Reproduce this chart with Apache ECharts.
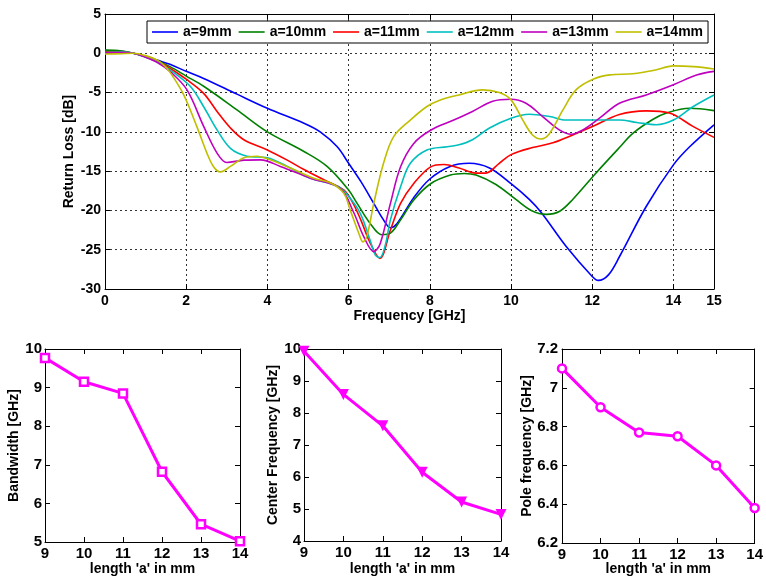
<!DOCTYPE html>
<html>
<head>
<meta charset="utf-8">
<script src="https://cdn.jsdelivr.net/npm/echarts@6/dist/echarts.min.js"></script>
<style>
  html, body { margin: 0; padding: 0; background: #fff; }
  #chart { width: 766px; height: 579px; }
</style>
</head>
<body>
<div id="chart"></div>
<script>
// Return loss curves, [frequency GHz, dB] for each slot length a
const rl_a9 = [[0,0.35],[0.4,0.25],[0.7,0],[1.0,-0.4],[1.3,-0.9],[1.6,-1.4],[2.0,-2.3],[2.43,-3.2],[3.25,-5.2],[4.0,-7.0],[4.9,-8.9],[5.3,-10.0],[5.72,-11.9],[6.0,-14.0],[6.3,-16.3],[6.62,-19.1],[6.86,-21.2],[7.03,-22.2],[7.19,-21.7],[7.6,-18.4],[8.0,-16.0],[8.5,-14.4],[8.97,-14.0],[9.47,-14.6],[10.0,-16.6],[10.45,-18.6],[10.75,-20.3],[11.36,-24.6],[12.0,-28.4],[12.15,-28.9],[12.4,-28.2],[12.68,-25.8],[13.33,-19.5],[14.0,-14.2],[14.4,-11.9],[15.0,-9.1]];
const rl_a10 = [[0,0.4],[0.4,0.3],[0.7,0],[1.0,-0.45],[1.3,-1.0],[1.6,-1.7],[2.0,-2.9],[2.43,-4.2],[3.25,-7.2],[4.0,-10.0],[4.9,-12.5],[5.47,-14.4],[6.0,-17.4],[6.21,-19.1],[6.53,-21.65],[6.82,-23.1],[7.03,-22.9],[7.28,-21.2],[7.6,-18.7],[8.02,-16.6],[8.51,-15.5],[8.85,-15.3],[9.14,-15.5],[9.63,-16.7],[10.12,-18.6],[10.5,-20.0],[10.87,-20.5],[11.2,-20.1],[11.52,-18.6],[12.1,-15.2],[12.67,-12.0],[13.0,-10.2],[13.5,-8.4],[13.83,-7.6],[14.4,-7.0],[15.0,-7.3]];
const rl_a11 = [[0,0.2],[0.4,0.2],[0.7,0],[1.0,-0.45],[1.3,-1.0],[1.6,-1.9],[2.0,-3.3],[2.43,-5.1],[2.76,-7.4],[3.09,-9.5],[3.42,-11.0],[4.0,-12.3],[4.49,-13.6],[4.9,-14.8],[5.39,-16.1],[5.88,-17.4],[6.1,-19.0],[6.3,-21.2],[6.52,-24.0],[6.77,-26.1],[7.03,-22.5],[7.28,-19.1],[7.6,-16.6],[8.02,-14.45],[8.35,-14.15],[8.72,-14.6],[9.14,-15.25],[9.38,-15.25],[9.71,-14.0],[10.0,-12.9],[10.53,-12.0],[11.03,-11.4],[11.52,-10.4],[12.02,-9.3],[12.67,-7.8],[13.33,-7.33],[13.9,-7.6],[14.48,-9.3],[15.0,-10.7]];
const rl_a12 = [[0,0.1],[0.4,0.15],[0.7,0],[1.0,-0.5],[1.3,-1.1],[1.6,-2.1],[2.1,-4.2],[2.43,-6.8],[2.76,-9.75],[3.09,-12.1],[3.5,-13.1],[4.0,-13.3],[4.49,-14.4],[5.06,-15.9],[5.72,-16.9],[6.0,-18.2],[6.29,-20.4],[6.53,-23.8],[6.66,-25.7],[6.77,-26.0],[6.9,-24.5],[7.03,-21.2],[7.28,-17.0],[7.52,-14.0],[7.93,-12.3],[8.43,-11.9],[8.72,-11.65],[9.05,-11.0],[9.47,-9.5],[10.0,-8.26],[10.45,-7.75],[10.95,-8.05],[11.36,-8.5],[11.93,-8.5],[12.67,-8.5],[13.1,-8.8],[13.58,-9.1],[14.0,-8.5],[14.48,-6.8],[15.0,-5.3]];
const rl_a13 = [[0,0.05],[0.4,0.1],[0.7,0],[1.0,-0.5],[1.3,-1.2],[1.6,-2.3],[2.02,-4.66],[2.43,-9.3],[2.76,-12.7],[3.0,-13.9],[3.42,-13.6],[3.83,-13.56],[4.32,-14.4],[5.06,-15.9],[5.79,-17.2],[6.12,-20.2],[6.37,-23.3],[6.62,-25.25],[6.78,-24.2],[7.03,-19.1],[7.28,-14.45],[7.6,-11.5],[8.02,-9.8],[8.59,-8.5],[9.05,-7.4],[9.55,-6.1],[10.0,-5.85],[10.37,-6.36],[10.78,-8.05],[11.19,-9.75],[11.48,-10.3],[11.77,-9.75],[12.18,-8.26],[12.67,-6.36],[13.33,-5.3],[14.0,-4.0],[14.57,-2.76],[15.0,-2.3]];
const rl_a14 = [[0,-0.1],[0.4,-0.05],[0.7,0],[1.0,-0.3],[1.3,-0.9],[1.45,-1.5],[1.6,-2.4],[1.93,-5.2],[2.26,-9.3],[2.51,-12.7],[2.67,-14.4],[2.84,-15.1],[3.09,-14.4],[3.42,-13.3],[3.74,-13.1],[4.07,-13.56],[4.57,-14.6],[5.14,-15.9],[5.56,-16.5],[5.88,-17.8],[6.04,-19.96],[6.25,-22.9],[6.35,-24.0],[6.45,-23.3],[6.62,-19.1],[6.86,-14.0],[7.11,-10.6],[7.52,-8.5],[7.92,-6.8],[8.23,-6.0],[8.72,-5.3],[9.3,-4.66],[9.71,-5.0],[10.0,-5.93],[10.29,-8.5],[10.53,-10.4],[10.74,-10.9],[10.95,-10.2],[11.28,-7.2],[11.6,-4.66],[12.02,-3.3],[12.43,-2.75],[13.0,-2.6],[13.5,-2.2],[14.0,-1.6],[14.5,-1.7],[15.0,-2.0]];

const curveNames = ['a=9mm', 'a=10mm', 'a=11mm', 'a=12mm', 'a=13mm', 'a=14mm'];
const curveData = [rl_a9, rl_a10, rl_a11, rl_a12, rl_a13, rl_a14];
const curveColors = ['#0000ff', '#008000', '#ff0000', '#00bfbf', '#bf00bf', '#bfbf00'];

// Parametric study results versus slot length
const lengthA = [9, 10, 11, 12, 13, 14];
const bandwidth = [9.77, 9.15, 8.85, 6.82, 5.46, 5.02];
const centerFreq = [9.93, 8.58, 7.6, 6.15, 5.22, 4.83];
const poleFreq = [7.1, 6.9, 6.77, 6.75, 6.6, 6.38];

const FONT = "'Liberation Sans', Arial, sans-serif";
const AXIS_COLOR = '#000';

const chart = echarts.init(document.getElementById('chart'), null, { renderer: 'canvas' });

function txt(size) {
  return { color: '#000', fontWeight: 'bold', fontSize: size, fontFamily: FONT };
}

function pairs(xs, ys) {
  return xs.map((x, i) => [x, ys[i]]);
}

const grids = [
  { left: 105, top: 14, width: 609, height: 275 },
  { left: 45, top: 349, width: 195, height: 193 },
  { left: 304, top: 349, width: 197, height: 192 },
  { left: 562, top: 349, width: 196, height: 194 }
];

const xAxes = [];
const yAxes = [];

function addAxes(gi, xr, yr, xName, yName, opts) {
  const tick = { show: true, inside: true, length: 5, lineStyle: { color: AXIS_COLOR } };
  const line = { show: true, onZero: false, lineStyle: { color: AXIS_COLOR, width: 1 } };
  const grid = opts.grid ? { show: true, lineStyle: { color: '#333', type: [2, 3], width: 1 } } : { show: false };
  xAxes.push({
    gridIndex: gi, type: 'value', position: 'bottom',
    min: xr[0], max: xr[1], interval: xr[2],
    axisLine: line, axisTick: tick, splitLine: grid,
    axisLabel: Object.assign({ margin: opts.xMargin }, txt(opts.tickSize)),
    name: xName, nameLocation: 'middle', nameGap: opts.xNameGap, nameMoveOverlap: false,
    nameTextStyle: txt(opts.nameSize)
  });
  xAxes.push({
    gridIndex: gi, type: 'value', position: 'top',
    min: xr[0], max: xr[1], interval: xr[2],
    axisLine: line, axisTick: tick, splitLine: { show: false },
    axisLabel: { show: false }
  });
  yAxes.push({
    gridIndex: gi, type: 'value', position: 'left',
    min: yr[0], max: yr[1], interval: yr[2],
    axisLine: line, axisTick: tick, splitLine: grid,
    axisLabel: Object.assign({ margin: opts.yMargin }, txt(opts.tickSize)),
    name: yName, nameLocation: 'middle', nameGap: opts.yNameGap, nameMoveOverlap: false,
    nameTextStyle: txt(opts.nameSize)
  });
  yAxes.push({
    gridIndex: gi, type: 'value', position: 'right',
    min: yr[0], max: yr[1], interval: yr[2],
    axisLine: line, axisTick: tick, splitLine: { show: false },
    axisLabel: { show: false }
  });
}

addAxes(0, [0, 15, 2], [-30, 5, 5], 'Frequency [GHz]', 'Return Loss [dB]',
  { grid: true, tickSize: 14, nameSize: 14, xMargin: 5, yMargin: 4, xNameGap: 20, yNameGap: 29 });
addAxes(1, [9, 14, 1], [5, 10, 1], "length 'a' in mm", 'Bandwidth [GHz]',
  { grid: false, tickSize: 15, nameSize: 14, xMargin: 4, yMargin: 3, xNameGap: 20, yNameGap: 24 });
addAxes(2, [9, 14, 1], [4, 10, 1], "length 'a' in mm", 'Center Frequency [GHz]',
  { grid: false, tickSize: 15, nameSize: 14, xMargin: 4, yMargin: 3, xNameGap: 21, yNameGap: 24 });
addAxes(3, [9, 14, 1], [6.2, 7.2, 0.2], "length 'a' in mm", 'Pole frequency [GHz]',
  { grid: false, tickSize: 15, nameSize: 14, xMargin: 4, yMargin: 4, xNameGap: 19, yNameGap: 28 });

const series = curveData.map((d, i) => ({
  name: curveNames[i], type: 'line', xAxisIndex: 0, yAxisIndex: 0,
  data: d, smooth: 0.35, symbol: 'none',
  lineStyle: { color: curveColors[i], width: 1.6 },
  itemStyle: { color: curveColors[i] }
}));

const MAGENTA = '#ff00ff';
function paramSeries(gi, ys, symbol, size, filled, rotate) {
  return {
    type: 'line', xAxisIndex: gi * 2, yAxisIndex: gi * 2,
    data: pairs(lengthA, ys), symbol: symbol, symbolSize: size, symbolRotate: rotate || 0,
    showAllSymbol: true,
    lineStyle: { color: MAGENTA, width: 3 },
    itemStyle: { color: filled ? MAGENTA : '#fff', borderColor: MAGENTA, borderWidth: filled ? 0 : 2.5 }
  };
}
series.push(paramSeries(1, bandwidth, 'rect', 8, false));
series.push(paramSeries(2, centerFreq, 'triangle', 11, true, 180));
series.push(paramSeries(3, poleFreq, 'circle', 8, false));

chart.setOption({
  animation: false,
  backgroundColor: '#fff',
  grid: grids,
  xAxis: xAxes,
  yAxis: yAxes,
  legend: {
    data: curveNames, left: 147, top: 21,
    orient: 'horizontal',
    icon: 'rect',
    itemWidth: 26, itemHeight: 1.6, itemGap: 7,
    padding: [4, 5, 4, 5],
    borderColor: '#000', borderWidth: 1, backgroundColor: '#fff',
    textStyle: Object.assign({ lineHeight: 14 }, txt(14))
  },
  series: series
});
</script>
</body>
</html>
